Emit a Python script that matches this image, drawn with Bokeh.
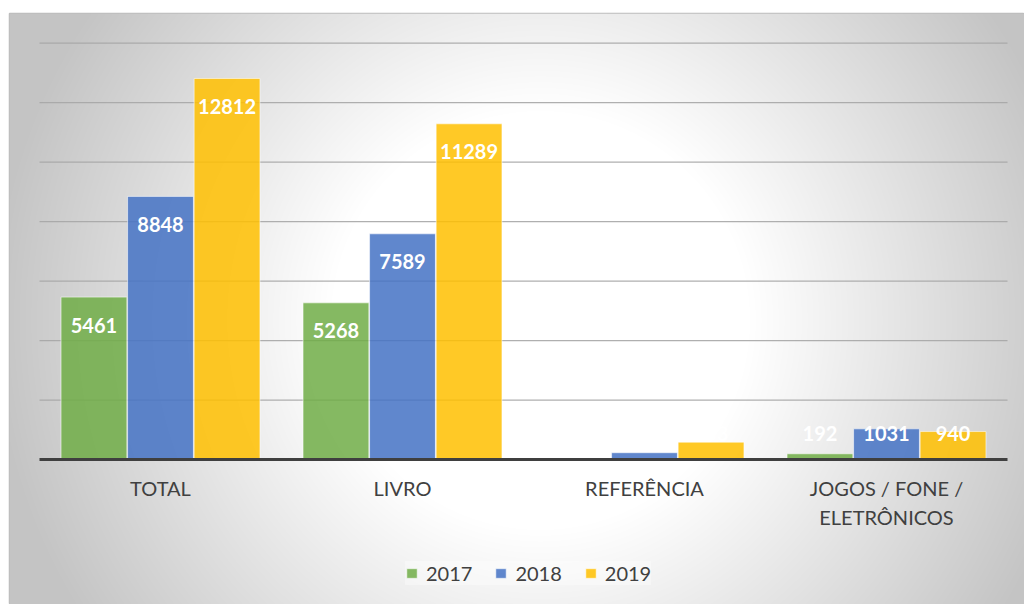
import numpy as np
from bokeh.plotting import figure
from bokeh.models import ColumnDataSource, Range1d
from bokeh.core.properties import value
from bokeh.embed import file_html
from bokeh.resources import INLINE

# ---------------- data ----------------
categories = ["TOTAL", "LIVRO", "REFERÊNCIA", "JOGOS / FONE /\nELETRÔNICOS"]
years = ["2017", "2018", "2019"]
v2017 = [5461, 5268, 1, 192]
v2018 = [8848, 7589, 228, 1031]
v2019 = [12812, 11289, 583, 940]
grid_ticks = [2000, 4000, 6000, 8000, 10000, 12000, 14000]

series = [v2017, v2018, v2019]
colors = ["#70AD47", "#4472C4", "#FFC000"]

# ---------------- layout ----------------
W, H = 1024, 604
ML, MT = 9, 13
FW, FH = W - ML, H - MT
PX0, PY0 = ML, MT                   # page position of the frame
cat_px = 242.0                      # pixels per category
x_start = -(39 - PX0) / cat_px
x_end = x_start + FW / cat_px
ypx = 416.3 / 14000.0               # pixels per unit
y_end = (459 - PY0) / ypx
y_start = y_end - FH / ypx

p = figure(width=W, height=H,
           x_range=Range1d(x_start, x_end), y_range=Range1d(y_start, y_end),
           x_axis_type=None, y_axis_type=None,
           toolbar_location=None, output_backend="svg",
           min_border_left=ML, min_border_top=MT,
           min_border_right=0, min_border_bottom=0,
           border_fill_color="white", background_fill_color="white",
           outline_line_color="#bdbdbd", outline_line_width=1.5)

# radial grey background
cols, rows = FW, FH
xs = PX0 + np.arange(cols) + 0.5
ys = PY0 + FH - (np.arange(rows) + 0.5)
X, Y = np.meshgrid(xs, ys)
d = np.hypot(X - 540, Y - 320)
t = np.clip((d - 210) / 340.0, 0, 1)
g = (255 - t * 59).astype(np.uint32)
img = (np.uint32(255) << 24) | (g << 16) | (g << 8) | g
p.image_rgba(image=[img], x=x_start, y=y_start, dw=x_end - x_start, dh=y_end - y_start)

n = len(categories)
# gridlines
p.segment(x0=[0] * len(grid_ticks), x1=[n] * len(grid_ticks),
          y0=grid_ticks, y1=grid_ticks, line_color="#a6a6a6", line_width=1.3, line_alpha=0.9)

bar_w = 0.272
offs = [-0.275, 0.0, 0.275]
lab_x, lab_y, lab_t = [], [], []
for j, (yr, vals) in enumerate(zip(years, series)):
    xpos = [i + 0.5 + offs[j] for i in range(n)]
    src = ColumnDataSource(dict(x=xpos, top=vals))
    p.vbar(x="x", top="top", width=bar_w, source=src,
           fill_color=colors[j], fill_alpha=0.85,
           line_color="white", line_alpha=0.55, line_width=1,
           legend_label=yr)
    for xx, v in zip(xpos, vals):
        lab_x.append(xx)
        lab_y.append(max(v - 940, 874))
        lab_t.append(str(v))

# baseline
p.segment(x0=[0], x1=[n], y0=[0], y1=[0], line_color="#3f3f3f", line_width=3)

# value labels
p.text(x=lab_x, y=lab_y, text=lab_t, text_color="white",
       text_font=value("Lato"), text_font_size="20px", text_font_style="bold",
       text_align="center", text_baseline="middle")

# category labels
p.text(x=[i + 0.5 for i in range(n)], y=[-560] * n, text=categories,
       text_color="#404040", text_font=value("Lato"), text_font_size="20px",
       text_align="center", text_baseline="top", text_line_height=1.2)

# legend
lg = p.legend[0]
lg.orientation = "horizontal"
lg.location = (396 - ML + 9, 19)
lg.glyph_width = 13
lg.glyph_height = 12
lg.label_standoff = 8
lg.spacing = 22
lg.padding = 8
lg.margin = 0
lg.label_text_font = "Lato"
lg.label_text_font_size = "20px"
lg.label_text_color = "#404040"
lg.background_fill_color = "white"
lg.background_fill_alpha = 0.35
lg.border_line_color = None

open("out.html", "w").write(file_html(p, INLINE))
